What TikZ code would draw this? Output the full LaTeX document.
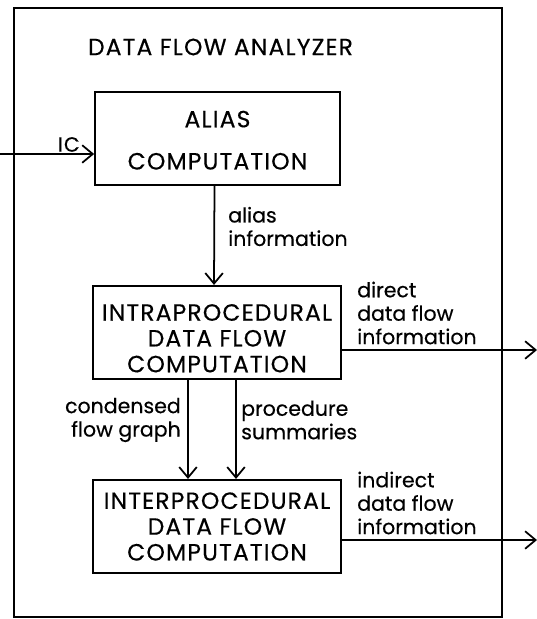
\documentclass[tikz,border=0pt]{standalone}
\usepackage{fontspec}
\setmainfont{Poppins}[FakeBold=0.4]
\newfontfamily\capsfont[LetterSpace=5,FakeBold=0.4]{Poppins}
\usetikzlibrary{arrows.meta,calc}

\begin{document}
\begin{tikzpicture}[x=0.03cm,y=-0.03cm,
          blk/.style={draw,line width=1.5pt,minimum width=7.44cm,
                      minimum height=2.8cm,align=center,
                      font=\capsfont\fontsize{20}{22}\selectfont},
          lbl/.style={align=left,inner sep=0pt,
                      font=\fontsize{17.5}{20}\selectfont},
          flow/.style={-{Straight Barb[length=9pt,width=15pt]},line width=1.5pt},
        ]
        \useasboundingbox (0,0) rectangle (537,619);

        % ANALYZER FRAME
        \node[draw,line width=1.6pt,minimum width=14.64cm,minimum height=18.27cm]
          (dfa) at (258,312.5) {};
        \node[font=\capsfont\fontsize{20}{22}\selectfont] (ttl) at (220.5,47)
          {DATA FLOW ANALYZER};

        % BLOCKS
        \node[blk,minimum width=7.35cm] (alias) at (217.5,138.5)
          {\mbox{}\\[-5pt]ALIAS\\[14pt]COMPUTATION};
        \node[blk] (intra) at (217,332.5)
          {\mbox{}\\[2pt]INTRAPROCEDURAL\\DATA FLOW\\COMPUTATION};
        \node[blk] (inter) at (217,526.5)
          {INTERPROCEDURAL\\DATA FLOW\\COMPUTATION};

        % CONNECTORS
        \coordinate (icin) at (0,154);
        \coordinate (dout) at (537,350);
        \coordinate (iout) at (537,540);
        \draw[flow] (icin) -- (alias.west |- icin);
        \draw[flow] ($(alias.south)+(-3,0)$) -- ($(intra.north)+(-3,0)$);
        \draw[flow] ($(intra.south)+(-29,0)$) -- ($(inter.north)+(-29,0)$);
        \draw[flow] ($(intra.south)+(19,0)$) -- ($(inter.north)+(19,0)$);
        \draw[flow] (intra.east |- dout) -- (dout);
        \draw[flow] (inter.east |- iout) -- (iout);

        % LABELS
        \node[lbl,font=\capsfont\fontsize{17.5}{20}\selectfont,anchor=south east]
          (icl) at (80,152) {IC};
        \node[lbl,anchor=west] (al) at (228,226.5) {alias\\information};
        \node[lbl,anchor=west] (dl) at (357,313) {direct\\data flow\\information};
        \node[lbl,anchor=east,align=right] (cl) at (181,420) {condensed\\flow graph};
        \node[lbl,anchor=west] (pl) at (241,420) {procedure\\summaries};
        \node[lbl,anchor=west] (il) at (357,503) {indirect\\data flow\\information};
      \end{tikzpicture}
\end{document}
